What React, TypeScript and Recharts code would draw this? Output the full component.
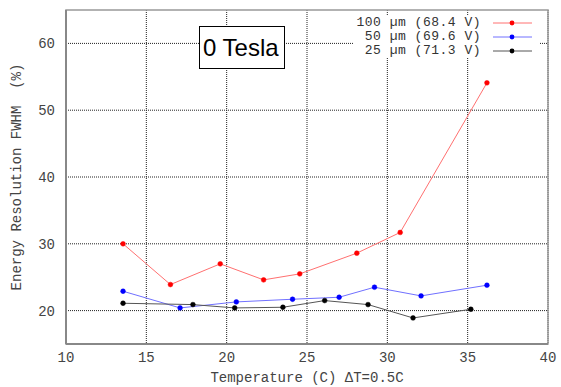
import {
  LineChart,
  Line,
  XAxis,
  YAxis,
  CartesianGrid,
  Legend,
  ReferenceArea,
} from "recharts";

const temps100 = [13.55, 16.5, 19.6, 22.3, 24.55, 28.1, 30.8, 36.2];
const fwhm100 = [30.0, 23.9, 27.0, 24.6, 25.5, 28.6, 31.7, 54.1];

const temps50 = [13.55, 17.1, 20.6, 24.1, 27.0, 29.2, 32.1, 36.2];
const fwhm50 = [22.9, 20.4, 21.3, 21.7, 22.0, 23.5, 22.2, 23.8];

const temps25 = [13.55, 17.9, 20.5, 23.5, 26.1, 28.8, 31.6, 35.2];
const fwhm25 = [21.1, 20.9, 20.4, 20.5, 21.5, 20.9, 18.9, 20.2];

const xTicks = [10, 15, 20, 25, 30, 35, 40];
const yTicks = [20, 30, 40, 50, 60];

const toRows = (t: number[], v: number[]) => t.map((x, i) => ({ t: x, v: v[i] }));

const series = [
  { name: "100 \u00b5m (68.4 V)", data: toRows(temps100, fwhm100), line: "#ff7070", dot: "#ff0000" },
  { name: "50 \u00b5m (69.6 V)", data: toRows(temps50, fwhm50), line: "#7070ff", dot: "#0000ff" },
  { name: "25 \u00b5m (71.3 V)", data: toRows(temps25, fwhm25), line: "#555555", dot: "#000000" },
];

const mono = "'Liberation Mono', 'DejaVu Sans Mono', monospace";

const LegendBox = () => (
  <div style={{ background: "#fff", paddingTop: 0 }}>
    {series.map((s) => (
      <div key={s.name} style={{ display: "flex", alignItems: "center", height: 14 }}>
        <span
          style={{
            width: 128,
            textAlign: "right",
            fontFamily: mono,
            fontSize: 13,
            lineHeight: "14px",
            letterSpacing: 0.5,
            color: "#333",
            whiteSpace: "pre",
          }}
        >
          {s.name}
        </span>
        <svg width={58} height={14}>
          <line x1={12} y1={7} x2={51} y2={7} stroke={s.line} strokeWidth={1} />
          <circle cx={31} cy={7} r={2.4} fill={s.dot} />
        </svg>
      </div>
    ))}
  </div>
);

const App = () => {
  return (
    <div style={{ position: "absolute", left: 0, top: 0, width: 561, height: 387, background: "#fff" }}>
      <LineChart
        width={561}
        height={387}
        margin={{ top: 10, right: 13, left: 0, bottom: 0 }}
      >
        <CartesianGrid stroke="#222" strokeDasharray="1 1" horizontalValues={yTicks} verticalValues={xTicks} />
        <XAxis
          type="number"
          dataKey="t"
          domain={[10, 40]}
          ticks={xTicks}
          height={43}
          tickLine={false}
          axisLine={{ stroke: "#888", strokeWidth: 2 }}
          tick={{ fontFamily: mono, fontSize: 14, fill: "#444" }}
          allowDuplicatedCategory={false}
          label={{
            value: "Temperature (C) \u0394T=0.5C",
            position: "insideBottom",
            offset: 5,
            style: { fontFamily: mono, fontSize: 14, fill: "#444" },
          }}
        />
        <YAxis
          type="number"
          domain={[15, 65]}
          ticks={yTicks}
          width={66}
          tickLine={false}
          tickMargin={5}
          axisLine={{ stroke: "#888", strokeWidth: 2 }}
          tick={{ fontFamily: mono, fontSize: 14, fill: "#444" }}
          label={{
            content: () => (
              <text
                x={0}
                y={0}
                transform="translate(21, 177) rotate(-90)"
                textAnchor="middle"
                fontFamily={mono}
                fontSize={14}
                fill="#444"
                style={{ whiteSpace: "pre" }}
              >
                Energy Resolution FWHM  (%)
              </text>
            ),
          }}
        />
        <ReferenceArea x1={10} x2={40} y1={15} y2={65} fill="none" stroke="#999" strokeWidth={1.5} />
        {series.map((s) => (
          <Line
            key={s.name}
            data={s.data}
            dataKey="v"
            name={s.name}
            stroke={s.line}
            strokeWidth={1}
            dot={{ r: 2.4, fill: s.dot, stroke: s.dot, strokeWidth: 0.5 }}
            activeDot={false}
            isAnimationActive={false}
          />
        ))}
        <Legend
          layout="horizontal"
          verticalAlign="middle"
          align="center"
          wrapperStyle={{ left: 353, top: 16, width: 186, height: 42 }}
          content={() => <LegendBox />}
        />
      </LineChart>
      <div
        style={{
          position: "absolute",
          left: 199,
          top: 26,
          width: 81,
          height: 41,
          border: "1px solid #000",
          background: "#fff",
          fontFamily: "'Liberation Sans', Arial, sans-serif",
          fontSize: 24,
          lineHeight: "41px",
          paddingLeft: 3,
          boxSizing: "content-box",
          whiteSpace: "nowrap",
        }}
      >
        0 Tesla
      </div>
    </div>
  );
};

export default App;
